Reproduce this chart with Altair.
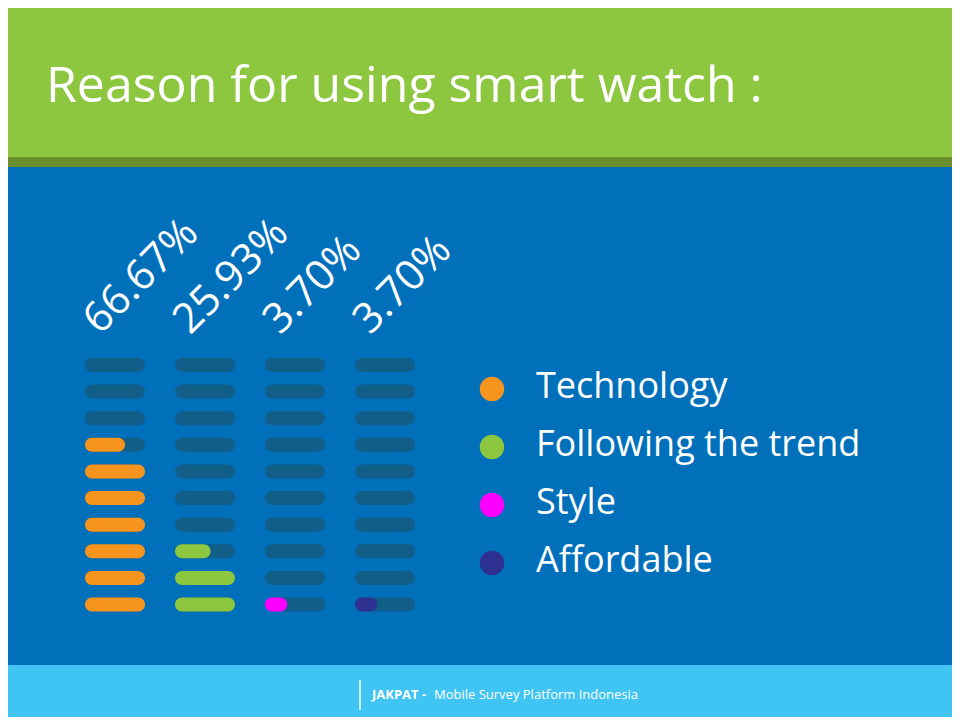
import pandas as pd
import altair as alt

# data
categories = ['Technology', 'Following the trend', 'Style', 'Affordable']
values = [66.67, 25.93, 3.70, 3.70]
colors = ['#f7941d', '#8dc63f', '#ff00ff', '#2e3192']
labels = ['66.67%', '25.93%', '3.70%', '3.70%']
n_rows = 10

W, H = 944, 709
# bar grid: 1 unit = 60px wide bar, columns every 1.5 units, rows every 27px
unit = 60.0
left = 77
bottom = 600
row_px = 27.0
xdom = [-left / unit, (W - left) / unit]
ydom = [-(H - bottom) / row_px, bottom / row_px]

rows = []
for c, (cat, v) in enumerate(zip(categories, values)):
    for r in range(n_rows):
        frac = min(max(v / 10.0 - r, 0.0), 1.0)
        rows.append({'cat': cat, 'col': c, 'row': r, 'x0': c * 1.5,
                     'x1': c * 1.5 + 1.0, 'xf': c * 1.5 + frac, 'frac': frac})
df = pd.DataFrame(rows)

xs = alt.Scale(domain=xdom, range=[0, W], nice=False, zero=False)
ys = alt.Scale(domain=ydom, range=[H, 0], nice=False, zero=False)

one = alt.Data(values=[{}])

def box(x, x2, y, y2, color):
    return alt.Chart(one).mark_rect(color=color).encode(
        x=alt.value(x), x2=alt.value(x2), y=alt.value(y), y2=alt.value(y2))

def txt(s, x, y, size, weight='normal', color='white', align='left'):
    return alt.Chart(one).mark_text(text=s, font='Open Sans', fontSize=size, fontWeight=weight,
                                    color=color, align=align, baseline='middle').encode(
        x=alt.value(x), y=alt.value(y))

bg = box(-8, W + 8, -8, H + 8, '#0070bb')
header = box(-8, W + 8, -8, 149, '#8dc63f')
stripe = box(-8, W + 8, 149, 159, '#6a8f2c')
footer = box(-8, W + 8, 657, H + 8, '#40c4f4')

title = alt.Chart(one).mark_text(text='Reason for using smart watch :', font='Open Sans',
                                 fontSize=50, fontWeight=500, color='white', align='left',
                                 baseline='alphabetic').encode(x=alt.value(38), y=alt.value(94))

base_bars = alt.Chart(df).mark_bar(height=14, cornerRadius=7, color='#115f88').encode(
    x=alt.X('x0:Q', scale=xs, axis=None), x2='x1:Q', y=alt.Y('row:Q', scale=ys, axis=None))

fill_bars = alt.Chart(df[df['frac'] > 0]).mark_bar(height=14, cornerRadius=7).encode(
    x=alt.X('x0:Q', scale=xs, axis=None), x2='xf:Q', y=alt.Y('row:Q', scale=ys, axis=None),
    color=alt.Color('cat:N', scale=alt.Scale(domain=categories, range=colors), legend=None))

lab_df = pd.DataFrame({'lab': labels, 'x': [c * 1.5 + 0.25 for c in range(4)], 'y': [10.1] * 4})
pct = alt.Chart(lab_df).mark_text(font='Open Sans', fontSize=42, color='white', angle=315,
                                  align='left', baseline='alphabetic').encode(
    x=alt.X('x:Q', scale=xs, axis=None), y=alt.Y('y:Q', scale=ys, axis=None), text='lab:N')

legend_layers = []
for i, (cat, col) in enumerate(zip(categories, colors)):
    yy = 381 + i * 58
    legend_layers.append(alt.Chart(one).mark_circle(size=600, color=col, opacity=1).encode(
        x=alt.value(484), y=alt.value(yy)))
    legend_layers.append(txt(cat, 528, yy - 2, 36))

sep = alt.Chart(one).mark_rule(color='white', strokeWidth=1.5).encode(
    x=alt.value(352), y=alt.value(672), y2=alt.value(702))
foot1 = txt('JAKPAT -', 364, 687, 13, weight='bold')
foot2 = txt('Mobile Survey Platform Indonesia', 426, 687, 13)

chart = alt.layer(bg, header, stripe, footer, title, base_bars, fill_bars, pct,
                  *legend_layers, sep, foot1, foot2).properties(
    width=W, height=H, padding=0, autosize=alt.AutoSizeParams(type='none'),
    background='#0070bb'
).configure_view(stroke=None)

chart.save('out.html', embed_options={'renderer': 'svg', 'actions': False})
